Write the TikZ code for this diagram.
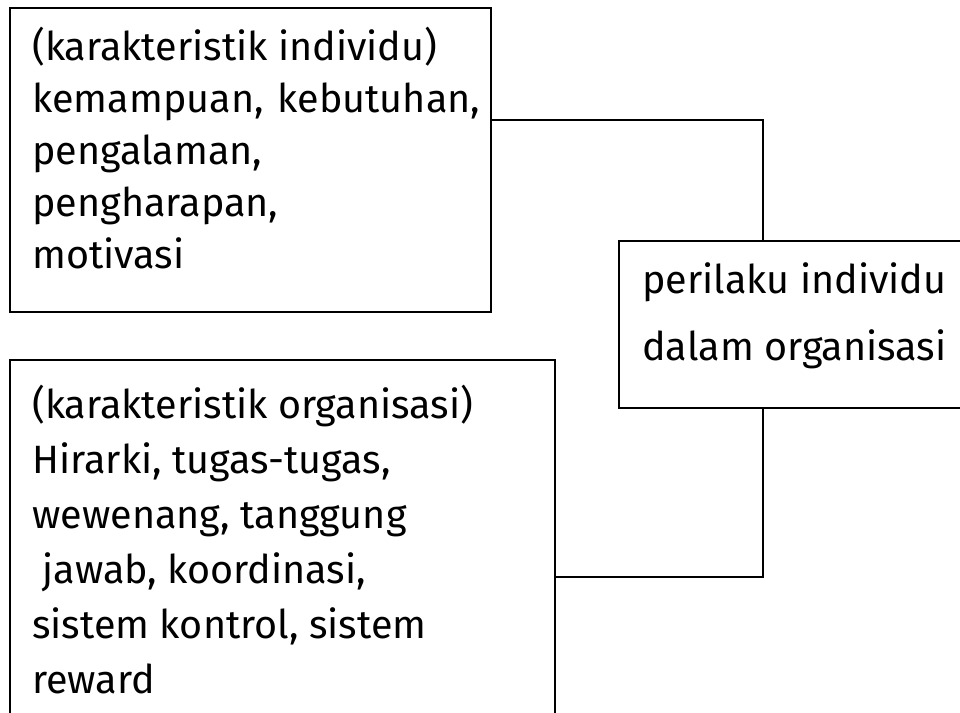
\documentclass[tikz,border=0pt]{standalone}
\usepackage{fontspec}
\setmainfont{Fira Sans}
\usepackage{tikz}

\begin{document}
\begin{tikzpicture}[x=0.02cm,y=-0.02cm,
	kotak/.style={draw,line width=1pt,rectangle},
	isi/.style={anchor=base west,align=left,inner sep=0pt}]
\useasboundingbox (0,0) rectangle (960,713);
\clip (0,0) rectangle (960,713);
% kotak
\node [kotak,minimum width=9.62cm,minimum height=6.08cm] (ind) at (250.5,160) {};
\node [kotak,minimum width=7.82cm,minimum height=3.34cm] (beh) at (814.5,324.5) {};
\node [kotak,minimum width=10.9cm,minimum height=8cm] (org) at (282.5,560) {};
% teks (base = baris terakhir)
\node [isi,font=\fontsize{22.5}{29.5}\selectfont] (tind) at (32,268)
	{(karakteristik individu)\\kemampuan,\hspace{2pt} kebutuhan,\\pengalaman,\\pengharapan,\\motivasi};
\node [isi,font=\fontsize{22.5}{38}\selectfont] (tbeh) at (642,360)
	{perilaku individu\\dalam organisasi};
\node [isi,font=\fontsize{22.5}{31.2}\selectfont] (torg) at (32,693)
	{(karakteristik organisasi)\\Hirarki, tugas-tugas,\\wewenang, tanggung\\\ jawab, koordinasi,\\sistem kontrol, sistem\\reward};
% garis
\coordinate (j1) at (763,120);
\coordinate (j2) at (763,577);
\draw [line width=1pt] (ind.east |- j1) -- (j1) -- (beh.north -| j1);
\draw [line width=1pt] (org.east |- j2) -- (j2) -- (beh.south -| j2);
\end{tikzpicture}
\end{document}
